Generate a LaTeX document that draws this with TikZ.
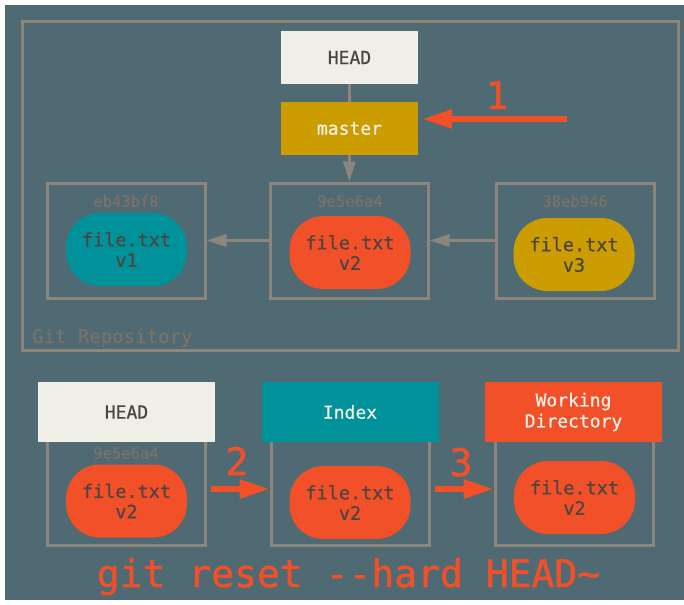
\documentclass[tikz,border=0pt]{standalone}
\usepackage{fontspec}
\setmonofont{DejaVu Sans Mono}
\newfontfamily\heavymono{DejaVu Sans Mono}[FakeBold=1.2,Ligatures=ResetAll]
\newfontfamily\midmono{DejaVu Sans Mono}[FakeBold=0.6,Ligatures=ResetAll]
\usetikzlibrary{arrows.meta}
\definecolor{slate}{HTML}{4F6A72}
\definecolor{frm}{HTML}{8C867D}
\definecolor{paper}{HTML}{F0EFE7}
\definecolor{ink}{HTML}{4C4541}
\definecolor{gitgold}{HTML}{CC9D00}
\definecolor{gitteal}{HTML}{00919A}
\definecolor{gitred}{HTML}{F25029}
\definecolor{hashc}{HTML}{7B7269}
\begin{document}
\begin{tikzpicture}[x=1pt,y=-1pt,
	>={Triangle[length=20pt,width=12pt]},
	conn/.style={draw=frm,line width=3pt},
	redarrow/.style={draw=gitred,line width=6pt,-{Triangle[length=30pt,width=18pt]}},
	refbox/.style={minimum width=137pt,minimum height=53pt,inner sep=0pt,align=center,font=\midmono\fontsize{18}{21}\selectfont},
	commitbox/.style={draw=frm,line width=3pt,minimum width=158pt,minimum height=115pt,inner sep=0pt},
	blob/.style={rounded corners=34pt,minimum width=121pt,minimum height=73pt,inner sep=0pt,align=center,text=ink,font=\midmono\fontsize{18.5}{20.5}\selectfont},
	hash/.style={text=hashc,inner sep=0pt,font=\midmono\fontsize{15.5}{16}\selectfont},
	numlabel/.style={text=gitred,anchor=base,inner sep=0pt,font=\heavymono\fontsize{38}{40}\selectfont}]
	\useasboundingbox (0,0) rectangle (684,604);
	\fill[white] (0,0) rectangle (684,604);
	\fill[slate] (5,5) rectangle (684,600);
	% repository
	\draw[conn] (22,22) rectangle (678,350);
	\node[hash,anchor=base west,font=\midmono\fontsize{19}{20}\selectfont] (repo) at (32,343) {Git Repository};
	\node[refbox,fill=paper,text=ink] (head) at (349.5,57.5) {HEAD};
	\node[refbox,fill=gitgold,text=paper] (master) at (349.5,128.5) {master};
	\node[commitbox] (c1) at (126,240.5) {};
	\node[commitbox] (c2) at (349,240.5) {};
	\node[commitbox] (c3) at (575,240.5) {};
	\node[hash] (h1) at (126,201) {eb43bf8};
	\node[hash] (h2) at (350,201) {9e5e6a4};
	\node[hash] (h3) at (575,201) {38eb946};
	\node[blob,fill=gitteal] (b1) at (126.5,249.5) {file.txt\\v1};
	\node[blob,fill=gitred] (b2) at (350,252.5) {file.txt\\v2};
	\node[blob,fill=gitgold] (b3) at (574,254.5) {file.txt\\v3};
	\draw[conn] (head) -- (master);
	\draw[conn,->] (master) -- (c2);
	\draw[conn,->] (c2) -- (c1);
	\draw[conn,->] (c3) -- (c2);
	\coordinate (t1) at (567,119);
	\draw[redarrow] (t1) -- ([xshift=4pt,yshift=9.5pt]master.east);
	\node[numlabel] (n1) at (497,109) {1};
	% trees
	\node[commitbox,minimum height=109pt] (f1) at (126,490.5) {};
	\node[commitbox,minimum height=109pt] (f2) at (350,490.5) {};
	\node[commitbox,minimum height=109pt] (f3) at (574,490.5) {};
	\node[refbox,minimum width=177pt,minimum height=60pt,fill=paper,text=ink] (bhead) at (126.5,412) {HEAD};
	\node[refbox,minimum width=177pt,minimum height=60pt,fill=gitteal,text=paper] (index) at (350,412) {Index};
	\node[refbox,minimum width=177pt,minimum height=60pt,fill=gitred,text=paper] (wdir) at (573.5,412) {Working\\Directory};
	\node[hash] (h4) at (126,453) {9e5e6a4};
	\node[blob,fill=gitred] (b4) at (126.5,501) {file.txt\\v2};
	\node[blob,fill=gitred] (b5) at (350,502.5) {file.txt\\v2};
	\node[blob,fill=gitred] (b6) at (574.5,497.5) {file.txt\\v2};
	\draw[redarrow] ([xshift=4pt,yshift=1.5pt]f1.east) -- ([yshift=1.5pt]f2.west);
	\draw[redarrow] ([xshift=4pt,yshift=1.5pt]f2.east) -- ([yshift=1.5pt]f3.west);
	\node[numlabel] (n2) at (237,475) {2};
	\node[numlabel] (n3) at (461,476) {3};
	\node[numlabel] (cmd) at (348.5,587) {git reset --hard HEAD\textasciitilde};
\end{tikzpicture}
\end{document}
